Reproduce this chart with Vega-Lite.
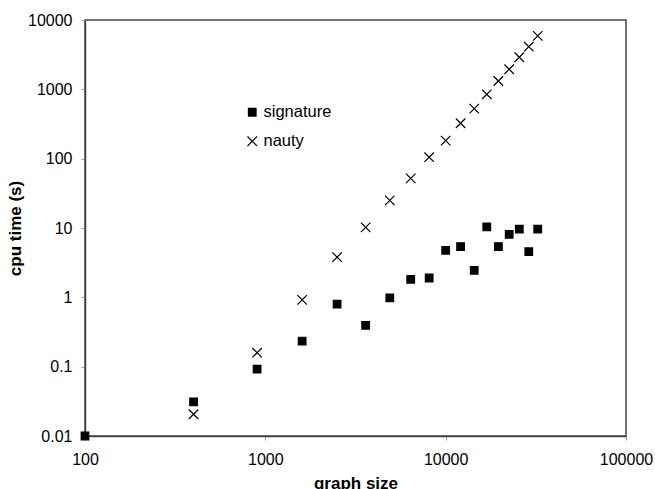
{
  "$schema": "https://vega.github.io/schema/vega-lite/v6.json",
  "autosize": {"type": "none"},
  "padding": {"left": 85, "top": 20, "right": 29, "bottom": 53},
  "width": 541,
  "height": 416,
  "background": "white",
  "config": {
    "font": "Liberation Sans",
    "view": {"stroke": "#444", "strokeWidth": 1.5},
    "axis": {
      "grid": false,
      "domainColor": "#444",
      "domainWidth": 1.5,
      "tickColor": "#999",
      "tickSize": 4,
      "labelFontSize": 16,
      "labelColor": "black",
      "titleFontSize": 17,
      "titleFontWeight": "bold",
      "titleColor": "black"
    }
  },
  "data": {
    "values": [
      {"size": 100, "time": 0.01, "series": "signature"},
      {"size": 400, "time": 0.031, "series": "signature"},
      {"size": 900, "time": 0.092, "series": "signature"},
      {"size": 1600, "time": 0.234, "series": "signature"},
      {"size": 2500, "time": 0.8, "series": "signature"},
      {"size": 3600, "time": 0.395, "series": "signature"},
      {"size": 4900, "time": 0.98, "series": "signature"},
      {"size": 6400, "time": 1.82, "series": "signature"},
      {"size": 8100, "time": 1.9, "series": "signature"},
      {"size": 10000, "time": 4.77, "series": "signature"},
      {"size": 12100, "time": 5.4, "series": "signature"},
      {"size": 14400, "time": 2.45, "series": "signature"},
      {"size": 16900, "time": 10.4, "series": "signature"},
      {"size": 19600, "time": 5.4, "series": "signature"},
      {"size": 22500, "time": 8.1, "series": "signature"},
      {"size": 25600, "time": 9.6, "series": "signature"},
      {"size": 28900, "time": 4.55, "series": "signature"},
      {"size": 32400, "time": 9.6, "series": "signature"},
      {"size": 400, "time": 0.0206, "series": "nauty"},
      {"size": 900, "time": 0.159, "series": "nauty"},
      {"size": 1600, "time": 0.92, "series": "nauty"},
      {"size": 2500, "time": 3.8, "series": "nauty"},
      {"size": 3600, "time": 10.2, "series": "nauty"},
      {"size": 4900, "time": 25, "series": "nauty"},
      {"size": 6400, "time": 52, "series": "nauty"},
      {"size": 8100, "time": 105, "series": "nauty"},
      {"size": 10000, "time": 182, "series": "nauty"},
      {"size": 12100, "time": 324, "series": "nauty"},
      {"size": 14400, "time": 526, "series": "nauty"},
      {"size": 16900, "time": 848, "series": "nauty"},
      {"size": 19600, "time": 1320, "series": "nauty"},
      {"size": 22500, "time": 1946, "series": "nauty"},
      {"size": 25600, "time": 2900, "series": "nauty"},
      {"size": 28900, "time": 4120, "series": "nauty"},
      {"size": 32400, "time": 5890, "series": "nauty"}
    ]
  },
  "mark": {"type": "point", "size": 90, "strokeWidth": 1.2, "opacity": 1, "clip": false},
  "encoding": {
    "x": {
      "field": "size", "type": "quantitative", "title": "graph size",
      "scale": {"type": "log", "domain": [100, 100000], "nice": false},
      "axis": {"values": [100, 1000, 10000, 100000], "format": "~g", "labelPadding": 11, "titlePadding": 8, "labelFlush": false}
    },
    "y": {
      "field": "time", "type": "quantitative", "title": "cpu time (s)",
      "scale": {"type": "log", "domain": [0.01, 10000], "nice": false},
      "axis": {"values": [0.01, 0.1, 1, 10, 100, 1000, 10000], "format": "~g", "labelPadding": 9, "titlePadding": 3, "labelFlush": false}
    },
    "shape": {
      "field": "series", "type": "nominal",
      "scale": {"domain": ["signature", "nauty"], "range": ["M-0.8,-0.8H0.8V0.8H-0.8Z", "M-1,-1L1,1M-1,1L1,-1"]},
      "legend": {"orient": "none", "legendX": 159, "legendY": 84, "title": null, "labelFontSize": 16.5, "rowPadding": 12, "labelOffset": 3, "symbolSize": 90, "symbolStrokeWidth": 1.2}
    },
    "fill": {
      "field": "series", "type": "nominal",
      "scale": {"domain": ["signature", "nauty"], "range": ["black", "transparent"]}
    },
    "stroke": {
      "field": "series", "type": "nominal",
      "scale": {"domain": ["signature", "nauty"], "range": ["black", "black"]}
    }
  }
}
